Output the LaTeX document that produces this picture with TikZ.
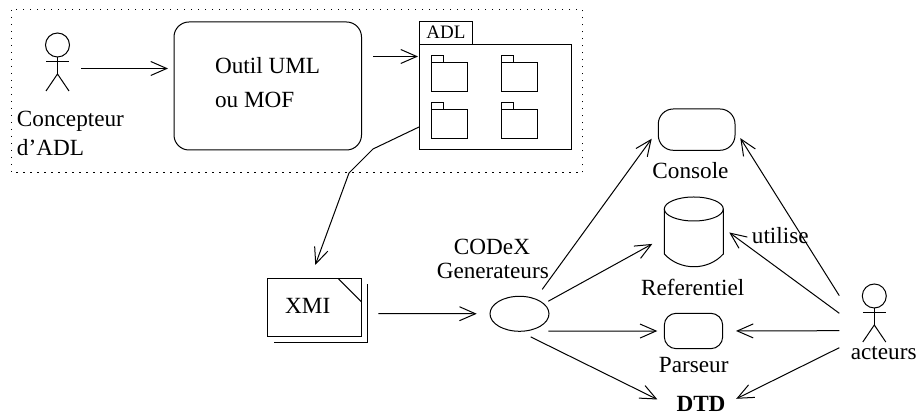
\documentclass[tikz,border=0pt]{standalone}
\usepackage{fontspec}
\setmainfont{Liberation Serif}
\usetikzlibrary{arrows.meta,shapes.geometric}
\tikzset{every path/.style={line width=0.5pt}, every node/.style={inner sep=0pt, outer sep=0pt, font=\fontsize{11.6}{14}\selectfont}}
\tikzset{>={Straight Barb[length=8pt,width=7pt]}}
\tikzset{texte/.style={anchor=base}, boite/.style={draw,rounded corners=7.5pt}}
\tikzset{bonhomme/.pic={
    \draw (0,0) circle[radius=12];
    \draw (-11.5,17) -- (11.5,17);
    \draw (0,12) -- (0,29);
    \draw (-11.5,46) -- (0,29) -- (11.5,46);
  }}

\begin{document}
\begin{tikzpicture}[x=0.5pt,y=-0.5pt]
   \useasboundingbox (0,0) rectangle (917,415);
   \draw[dash pattern=on 0.6pt off 2.9pt] (11.4,10) rectangle (582.7,173);
   % concepteur et outil
   \pic at (57.5,45) {bonhomme};
   \coordinate (concepteur) at (81,68.5);
   \node[texte,anchor=base west] (nomA) at (17,127) {Concepteur};
   \node[texte,anchor=base west] (nomB) at (17,156) {d’ADL};
   \node[boite,minimum width=93.75pt,minimum height=64pt] (outil) at (267.75,86) {};
   \node[texte,anchor=base west] (outilA) at (215,74) {Outil UML};
   \node[texte,anchor=base west] (outilB) at (215,108) {ou MOF};
   % paquetage ADL
   \node[draw,minimum width=76pt,minimum height=52.5pt] (adl) at (495,97.5) {};
   \node[draw,minimum width=26.5pt,minimum height=11.5pt] (onglet) at (445.5,33.5) {};
   \node[texte,font=\fontsize{9.5}{12}\selectfont] (ongletlabel) at (446,38.3) {ADL};
   \foreach \x in {431,501} {
     \foreach \y in {56,103} {
       \draw (\x,\y) rectangle +(12.5,7);
       \draw (\x,\y+7) rectangle +(36,29);
     }
   }
   % XMI
   \draw (274,342.7) -- (367.3,342.7) -- (367.3,284.3);
   \node[draw,fill=white,minimum width=46.9pt,minimum height=29.2pt] (xmi) at (314.4,307.5) {};
   \draw (338,278.3) -- (361.3,301.7);
   \node[texte] (xmilabel) at (307.7,314) {XMI};
   % generateurs
   \node[draw,ellipse,minimum width=29.5pt,minimum height=17.5pt] (gen) at (519.5,313.8) {};
   \node[texte] (genA) at (492,255) {CODeX};
   \node[texte] (genB) at (492.8,279) {Generateurs};
   % cibles
   \node[boite,minimum width=38.35pt,minimum height=20.65pt] (console) at (696.65,129.65) {};
   \node[texte] (consolelabel) at (690.5,179) {Console};
   \node[minimum width=29.5pt,minimum height=35pt] (ref) at (693.8,231.7) {};
   \draw (693.8,209) ellipse[x radius=29.5,y radius=12];
   \draw (664.3,209) -- (664.3,254) .. controls (680,271) and (708,271) .. (723.3,254) -- (723.3,209);
   \node[texte] (reflabel) at (692.7,295.7) {Referentiel};
   \node[boite,rounded corners=6pt,minimum width=29.2pt,minimum height=17.7pt] (parseur) at (693.5,331) {};
   \node[texte] (parseurlabel) at (693.7,372.3) {Parseur};
   \node[texte] (dtd) at (701,411.7) {\textbf{DTD}};
   \node[texte] (utilise) at (780.3,243.3) {utilise};
   % acteurs
   \pic at (874.3,296) {bonhomme};
   \node[texte] (acteurs) at (883.7,359.3) {acteurs};
   \coordinate (portA) at (839.3,295.7);
   \coordinate (portB) at (839.3,313.3);
   \coordinate (portC) at (839.3,330.7);
   \coordinate (portD) at (839.3,347.7);
   \coordinate (coudeA) at (373,149);
   \coordinate (coudeB) at (349,173);
   % liens
   \draw[->,shorten >=3pt] (concepteur) -- (concepteur -| outil.west);
   \draw[->,shorten <=5.75pt,shorten >=0.5pt] ([yshift=14.75pt]outil.east) -- ([yshift=20.5pt]adl.west);
   \draw[->,shorten >=7.1pt] ([yshift=-14.75pt]adl.west) -- (coudeA) -- (coudeB) -- ([xshift=-2pt]xmi.north);
   \draw[->,shorten <=8.5pt,shorten >=6.65pt] ([yshift=-3pt]xmi.east) -- (gen.west);
   \draw[->,shorten <=15.1pt,shorten >=5.6pt] ([xshift=2.5pt]gen.center) -- (console.west);
   \draw[->,shorten <=13pt,shorten >=6.85pt] ([xshift=3pt]gen.center) -- ([yshift=-2.8pt]ref.west);
   \draw[->,shorten <=14.4pt,shorten >=3.5pt] (gen.south) -- (parseur.west);
   \draw[->,shorten <=22.7pt,shorten >=10.65pt] ([yshift=-1.5pt]gen.west) -- ([yshift=-2.4pt]dtd.west);
   \draw[->,shorten >=5pt] (portA) -- (console.east);
   \draw[->,shorten >=3.7pt] (portB) -- ([yshift=1.8pt]ref.east);
   \draw[->,shorten >=6.65pt] (portC) -- (parseur.east);
   \draw[->,shorten >=6pt] (portD) -- (dtd.east);
\end{tikzpicture}
\end{document}
